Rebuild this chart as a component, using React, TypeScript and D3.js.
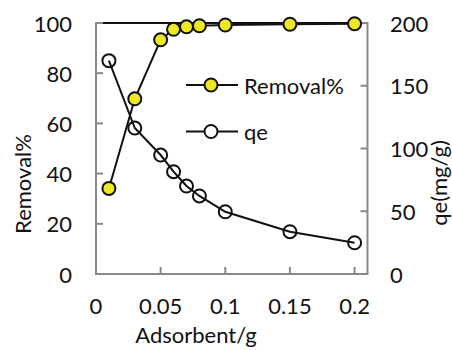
import * as d3 from "d3";

const doses = [0.01, 0.03, 0.05, 0.06, 0.07, 0.08, 0.1, 0.15, 0.2];
const removal = [34.1, 69.8, 93.3, 97.5, 98.5, 98.9, 99.2, 99.5, 99.7];
const qe = [170, 116.3, 94.8, 81.5, 70.1, 62.2, 49.6, 33.7, 24.9];

const xTicks = [0, 0.05, 0.1, 0.15, 0.2];
const leftTicks = [0, 20, 40, 60, 80, 100];
const rightTicks = [0, 50, 100, 150, 200];

const W = 452;
const H = 350;
const left = 96;
const right = 367.5;
const top = 23;
const bottom = 274;

const FONT = "Lato, 'Liberation Sans', sans-serif";
const FS = 22;
const AXIS = "#898989";
const YELLOW = "#efe723";

export default function App() {
  const x = d3.scaleLinear().domain([0, 0.21]).range([left, right]);
  const yL = d3.scaleLinear().domain([0, 100]).range([bottom, top]);
  const yR = d3.scaleLinear().domain([0, 200]).range([bottom, top]);

  const removalPts: [number, number][] = doses.map((d, i) => [d, removal[i]]);
  const qePts: [number, number][] = doses.map((d, i) => [d, qe[i]]);

  const lineL = d3.line<[number, number]>().x(d => x(d[0])).y(d => yL(d[1]));
  const lineR = d3.line<[number, number]>().x(d => x(d[0])).y(d => yR(d[1]));

  const tick = 7;

  return (
    <svg
      width={W}
      height={H}
      style={{ position: "absolute", left: 0, top: 0, background: "white" }}
      fontFamily={FONT}
      fontSize={FS}
    >
      {/* top line */}
      <line x1={left} x2={right} y1={top} y2={top} stroke="#111" strokeWidth={2} />

      {/* axes */}
      <g stroke={AXIS} strokeWidth={2} fill="none">
        <line x1={left} x2={left} y1={top - 1} y2={bottom + 1} />
        <line x1={right} x2={right} y1={top - 1} y2={bottom + 1} />
        <line x1={left} x2={right} y1={bottom} y2={bottom} />
        {leftTicks.map(t => (
          <line key={"l" + t} x1={left} x2={left + tick} y1={yL(t)} y2={yL(t)} />
        ))}
        {rightTicks.map(t => (
          <line key={"r" + t} x1={right - tick} x2={right} y1={yR(t)} y2={yR(t)} />
        ))}
        {xTicks.map(t => (
          <line key={"x" + t} x1={x(t)} x2={x(t)} y1={bottom - tick} y2={bottom} />
        ))}
      </g>

      {/* tick labels */}
      <g fill="#111">
        {leftTicks.map(t => (
          <text key={"lt" + t} x={72} y={yL(t)} textAnchor="end" dominantBaseline="central">
            {t}
          </text>
        ))}
        {rightTicks.map(t => (
          <text key={"rt" + t} x={390} y={yR(t)} textAnchor="start" dominantBaseline="central">
            {t}
          </text>
        ))}
        {xTicks.map(t => (
          <text key={"xt" + t} x={x(t)} y={305} textAnchor="middle" dominantBaseline="central">
            {t}
          </text>
        ))}
        <text x={196} y={343} textAnchor="middle">Adsorbent/g</text>
        <text transform="translate(22,184) rotate(-90)" textAnchor="middle" dominantBaseline="central">
          Removal%
        </text>
        <text transform="translate(438,183) rotate(-90)" textAnchor="middle" dominantBaseline="central">
          qe(mg/g)
        </text>
      </g>

      {/* series */}
      <path d={lineR(qePts) || undefined} fill="none" stroke="#111" strokeWidth={2} />
      <path d={lineL(removalPts) || undefined} fill="none" stroke="#111" strokeWidth={2} />
      {qePts.map((p, i) => (
        <circle key={"q" + i} cx={x(p[0])} cy={yR(p[1])} r={6.5} fill="none" stroke="#111" strokeWidth={2} />
      ))}
      {removalPts.map((p, i) => (
        <circle key={"rm" + i} cx={x(p[0])} cy={yL(p[1])} r={6.5} fill={YELLOW} stroke="#111" strokeWidth={2} />
      ))}

      {/* legend */}
      <g>
        <line x1={186} x2={238} y1={85} y2={85} stroke="#111" strokeWidth={2} />
        <circle cx={211} cy={85} r={6.5} fill={YELLOW} stroke="#111" strokeWidth={2} />
        <text x={244} y={85} dominantBaseline="central" fill="#111">Removal%</text>
        <line x1={186} x2={238} y1={131.5} y2={131.5} stroke="#111" strokeWidth={2} />
        <circle cx={211} cy={131.5} r={6.5} fill="white" stroke="#111" strokeWidth={2} />
        <text x={244} y={131.5} dominantBaseline="central" fill="#111">qe</text>
      </g>
    </svg>
  );
}
